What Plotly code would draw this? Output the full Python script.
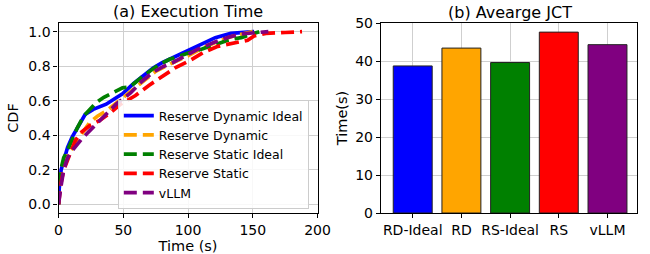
import plotly.graph_objects as go

# ---- data: (a) Execution time CDF ----
blue_t = [0, 0.5, 2, 4.3, 7, 10.5, 15.5, 20.5, 26.8, 36.8, 43, 49.4, 58, 66, 73, 80, 85.7, 92, 100.7, 110.8, 121, 133, 140, 151]
blue_c = [0, 0.09, 0.2, 0.27, 0.33, 0.39, 0.457, 0.52, 0.55, 0.58, 0.61, 0.64, 0.70, 0.75, 0.79, 0.82, 0.84, 0.86, 0.89, 0.93, 0.965, 0.99, 0.995, 1.0]

orange_t = [0, 0.5, 2, 5, 9, 14.3, 19, 24.3, 30, 36.8, 46.8, 55, 65, 75, 88, 100, 110, 122, 133, 145, 150]
orange_c = [0, 0.08, 0.18, 0.26, 0.31, 0.36, 0.42, 0.476, 0.51, 0.54, 0.60, 0.65, 0.71, 0.77, 0.82, 0.86, 0.90, 0.94, 0.97, 0.99, 1.0]

green_t = [0, 0.5, 1.8, 4, 6.8, 10, 14.3, 19.3, 24, 29.3, 35, 40.6, 45, 49.4, 55, 58, 65, 72, 78, 85.7, 95, 102, 110.8, 123, 133, 141, 151, 155]
green_c = [0, 0.1, 0.2, 0.27, 0.31, 0.37, 0.44, 0.51, 0.55, 0.59, 0.62, 0.64, 0.66, 0.675, 0.68, 0.70, 0.74, 0.78, 0.81, 0.84, 0.86, 0.88, 0.90, 0.93, 0.955, 0.965, 0.987, 1.0]

red_t = [0, 0.5, 1.8, 4, 6.8, 10, 13, 18, 24.3, 31.8, 40, 48, 59.4, 70, 80.7, 90, 100.7, 112, 123, 133, 146, 151, 160, 175, 188]
red_c = [0, 0.05, 0.12, 0.2, 0.254, 0.31, 0.37, 0.42, 0.457, 0.486, 0.53, 0.58, 0.63, 0.69, 0.746, 0.79, 0.83, 0.88, 0.915, 0.93, 0.95, 0.975, 0.99, 0.995, 1.0]

purple_t = [0, 0.5, 1.8, 4, 7, 10.5, 18, 26.8, 34.3, 44.4, 55.6, 64, 73, 80, 88, 98, 108, 120.8, 131, 141, 156, 162]
purple_c = [0, 0.02, 0.1, 0.2, 0.27, 0.31, 0.38, 0.447, 0.505, 0.58, 0.645, 0.71, 0.765, 0.795, 0.82, 0.86, 0.90, 0.94, 0.967, 0.987, 0.996, 1.0]

series_names = ["Reserve Dynamic Ideal", "Reserve Dynamic", "Reserve Static Ideal", "Reserve Static", "vLLM"]
series_colors = ["#0000ff", "#ffa500", "#008000", "#ff0000", "#800080"]

# ---- data: (b) Average JCT ----
bar_labels = ["RD-Ideal", "RD", "RS-Ideal", "RS", "vLLM"]
bar_values = [38.7, 43.4, 39.6, 47.6, 44.3]

W, H = 650, 254
TOP, BOT = 23, 41
PH = H - TOP - BOT
FONT = "DejaVu Sans"

fig = go.Figure()
curves = [(blue_t, blue_c), (orange_t, orange_c), (green_t, green_c), (red_t, red_c), (purple_t, purple_c)]
for i, ((t, c), name, col) in enumerate(zip(curves, series_names, series_colors)):
    fig.add_trace(go.Scatter(
        x=t, y=c, mode="lines", name=name,
        line=dict(color=col, width=3.7, dash="solid" if i == 0 else "13px,6px"),
        xaxis="x", yaxis="y",
    ))

fig.add_trace(go.Bar(
    x=list(range(len(bar_labels))), y=bar_values, width=0.8,
    marker=dict(color=series_colors, line=dict(color="#222222", width=1)),
    xaxis="x2", yaxis="y2", showlegend=False,
))

axis_common = dict(
    showline=True, linecolor="black", linewidth=1.2, mirror=True,
    ticks="outside", ticklen=4, tickwidth=1, tickcolor="black",
    showgrid=True, gridcolor="#cfcfcf", gridwidth=1.2, zeroline=False,
    tickfont=dict(family=FONT, size=14, color="black"),
)
title_font = dict(family=FONT, size=14.5, color="black")

fig.update_layout(
    width=W, height=H,
    margin=dict(l=0, r=0, t=TOP, b=BOT),
    plot_bgcolor="white", paper_bgcolor="white",
    font=dict(family=FONT, size=12, color="black"),
    xaxis=dict(domain=[56 / W, 322 / W], range=[0, 200], tickvals=[0, 50, 100, 150, 200],
               title=dict(text="Time (s)", font=title_font, standoff=1),
               anchor="y", **axis_common),
    yaxis=dict(domain=[0, 1], range=[-0.05, 1.05], tickvals=[0, 0.2, 0.4, 0.6, 0.8, 1.0],
               tickformat=".1f",
               title=dict(text="CDF", font=title_font, standoff=6),
               anchor="x", **axis_common),
    xaxis2=dict(domain=[387 / W, 1.0], range=[-0.654, 4.606],
                tickvals=list(range(len(bar_labels))), ticktext=bar_labels,
                anchor="y2", **axis_common),
    yaxis2=dict(domain=[0, 1], range=[0, 50], tickvals=[0, 10, 20, 30, 40, 50],
                title=dict(text="Time(s)", font=title_font, standoff=4),
                anchor="x2", **axis_common),
    legend=dict(x=313 / W, xanchor="right", y=4 / PH, yanchor="bottom",
                bgcolor="rgba(255,255,255,0.85)", bordercolor="#cccccc", borderwidth=1,
                font=dict(family=FONT, size=12.5, color="black"),
                tracegroupgap=0, itemwidth=30),
    annotations=[
        dict(text="(a) Execution Time", x=(56 + 322) / 2 / W, y=(213 - 11.5) / PH,
             xref="paper", yref="paper", xanchor="center", yanchor="middle", showarrow=False,
             font=dict(family=FONT, size=16, color="black")),
        dict(text="(b) Avearge JCT", x=519.5 / W, y=(213 - 12) / PH,
             xref="paper", yref="paper", xanchor="center", yanchor="middle", showarrow=False,
             font=dict(family=FONT, size=16, color="black")),
    ],
)

fig.write_html("out.html", config={"displayModeBar": False},
               post_script="document.body.style.margin='0px';document.body.style.padding='0px';")
